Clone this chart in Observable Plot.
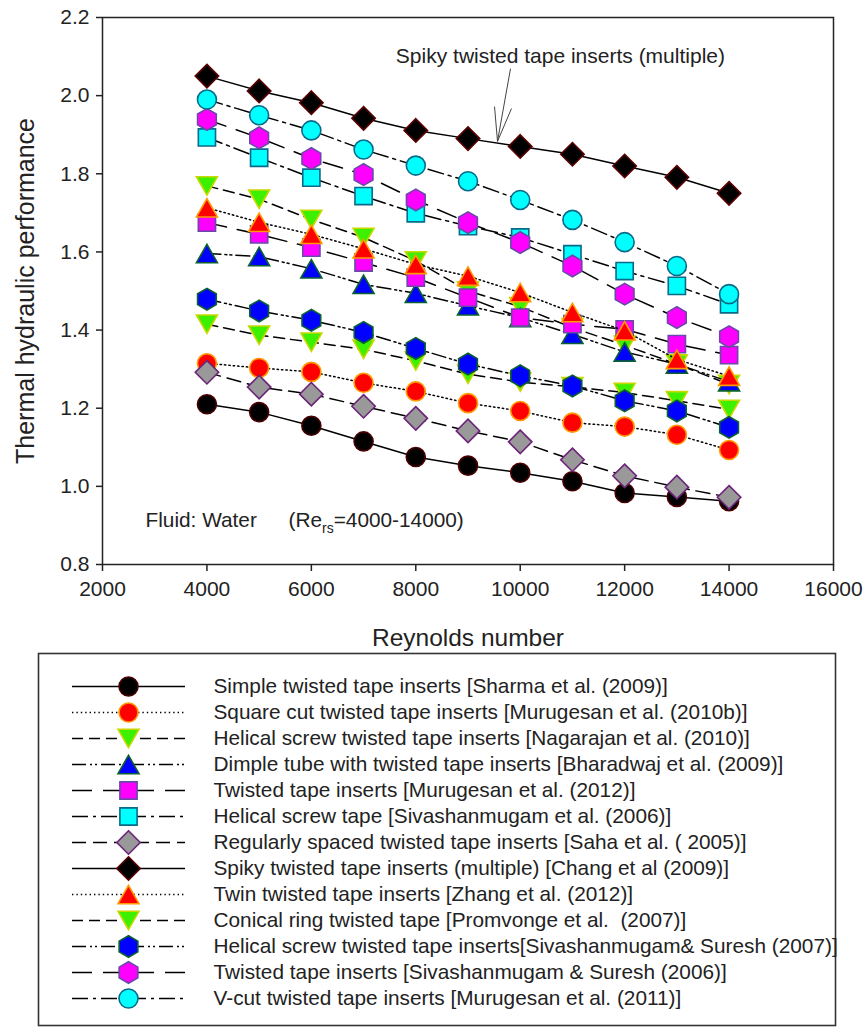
<!DOCTYPE html>
<html>
<head>
<meta charset="utf-8">
<script src="https://cdn.jsdelivr.net/npm/d3@7"></script>
<script src="https://cdn.jsdelivr.net/npm/@observablehq/plot@0.6"></script>
<style>
  body { margin: 0; background: #fff; font-family: "Liberation Sans", Arial, sans-serif; }
  #chart svg, #legend svg { display: block; }
</style>
</head>
<body>
<div id="chart"></div>
<div id="legend"></div>
<script>
// ---------- data ----------
const reynolds = [4000, 5000, 6000, 7000, 8000, 9000, 10000, 11000, 12000, 13000, 14000];

const seriesNames = [
  "Simple twisted tape inserts [Sharma et al. (2009)]",
  "Square cut twisted tape inserts [Murugesan et al. (2010b)]",
  "Helical screw twisted tape inserts [Nagarajan et al. (2010)]",
  "Dimple tube with twisted tape inserts [Bharadwaj et al. (2009)]",
  "Twisted tape inserts [Murugesan et al. (2012)]",
  "Helical screw tape [Sivashanmugam et al. (2006)]",
  "Regularly spaced twisted tape inserts [Saha et al. ( 2005)]",
  "Spiky twisted tape inserts (multiple) [Chang et al (2009)]",
  "Twin twisted tape inserts [Zhang et al. (2012)]",
  "Conical ring twisted tape [Promvonge et al.  (2007)]",
  "Helical screw twisted tape inserts[Sivashanmugam& Suresh (2007)]",
  "Twisted tape inserts [Sivashanmugam & Suresh (2006)]",
  "V-cut twisted tape inserts [Murugesan et al. (2011)]"
];

const sharma2009      = [1.210, 1.190, 1.155, 1.115, 1.075, 1.053, 1.035, 1.013, 0.983, 0.973, 0.962];
const murugesan2010b  = [1.315, 1.303, 1.293, 1.265, 1.243, 1.213, 1.193, 1.163, 1.153, 1.132, 1.093];
const nagarajan2010   = [1.769, 1.735, 1.683, 1.637, 1.577, 1.500, 1.460, 1.406, 1.361, 1.313, 1.261];
const bharadwaj2009   = [1.596, 1.588, 1.557, 1.517, 1.494, 1.462, 1.432, 1.389, 1.344, 1.313, 1.268];
const murugesan2012   = [1.675, 1.645, 1.611, 1.573, 1.534, 1.483, 1.432, 1.415, 1.402, 1.364, 1.336];
const sivashanmugam2006 = [1.893, 1.841, 1.790, 1.743, 1.699, 1.666, 1.637, 1.594, 1.551, 1.513, 1.466];
const saha2005        = [1.292, 1.254, 1.236, 1.205, 1.174, 1.142, 1.114, 1.068, 1.027, 0.998, 0.972];
const chang2009       = [2.050, 2.012, 1.982, 1.942, 1.911, 1.890, 1.870, 1.850, 1.820, 1.791, 1.750];
const zhang2012       = [1.713, 1.676, 1.645, 1.608, 1.568, 1.538, 1.496, 1.445, 1.398, 1.325, 1.282];
const promvonge2007   = [1.415, 1.387, 1.369, 1.351, 1.321, 1.287, 1.267, 1.255, 1.240, 1.219, 1.197];
const sivSuresh2007   = [1.479, 1.449, 1.425, 1.394, 1.353, 1.313, 1.283, 1.257, 1.219, 1.193, 1.151];
const sivSuresh2006   = [1.939, 1.892, 1.839, 1.798, 1.733, 1.675, 1.624, 1.564, 1.492, 1.432, 1.383];
const murugesan2011   = [1.990, 1.950, 1.911, 1.862, 1.821, 1.781, 1.733, 1.682, 1.625, 1.564, 1.492];

const seriesValues = [sharma2009, murugesan2010b, nagarajan2010, bharadwaj2009, murugesan2012,
  sivashanmugam2006, saha2005, chang2009, zhang2012, promvonge2007, sivSuresh2007, sivSuresh2006, murugesan2011];

const xTicks = [2000, 4000, 6000, 8000, 10000, 12000, 14000, 16000];
const yTicks = [0.8, 1.0, 1.2, 1.4, 1.6, 1.8, 2.0, 2.2];

const xLabel = "Reynolds number";
const yLabel = "Thermal hydraulic performance";

// annotation (data coordinates)
const annotationText = [{x: 10770, y: 2.100, text: "Spiky twisted tape inserts (multiple)"}];
const arrowSegments = [
  {x1: 9814, y1: 2.069, x2: 9565, y2: 1.883},
  {x1: 9508, y1: 1.972, x2: 9565, y2: 1.883},
  {x1: 9833, y1: 1.967, x2: 9565, y2: 1.883}
];
const fluidNote = [{x: 2824, y: 0.913, text: "Fluid: Water"}];
const rangeNote = [{x: 5562, y: 0.913, text: "(Re=4000-14000)"}];

// ---------- styles ----------
function shape(fn) { return {draw(ctx, size) { fn(ctx, Math.sqrt(size / Math.PI)); }}; }
const symCircle = shape((c, R) => { const r = 0.95 * R; c.moveTo(r, 0); c.arc(0, 0, r, 0, 2 * Math.PI); c.closePath(); });
const symSquare = shape((c, R) => { const h = 0.86 * R; c.rect(-h, -h, 2 * h, 2 * h); });
const symDiamond = shape((c, R) => { const h = 1.17 * R; c.moveTo(0, -h); c.lineTo(h, 0); c.lineTo(0, h); c.lineTo(-h, 0); c.closePath(); });
const symTriUp = shape((c, R) => { const w = 1.05 * R, h = 0.92 * R; c.moveTo(0, -h); c.lineTo(w, h); c.lineTo(-w, h); c.closePath(); });
const symTriDown = shape((c, R) => { const w = 1.05 * R, h = 0.92 * R; c.moveTo(0, h); c.lineTo(w, -h); c.lineTo(-w, -h); c.closePath(); });
const symHex = shape((c, R) => { const r = 1.08 * R; for (let k = 0; k < 6; k++) { const a = Math.PI / 2 + k * Math.PI / 3; const px = r * Math.cos(a), py = -r * Math.sin(a); k ? c.lineTo(px, py) : c.moveTo(px, py); } c.closePath(); });

const DOT = "1.4,3";
const SHORTDASH = "11,6";
const DASHDOTDOT = "14,4,2,3,2,4";
const LONGDASH = "20,11";
const DASHDOT = "16,5,3,5";
const MEDDASH = "14,7";

const styles = [
  {symbol: symCircle,  fill: "#000000", stroke: "#4a0000", dash: null},
  {symbol: symCircle,  fill: "#ff0000", stroke: "#ff9a00", dash: DOT},
  {symbol: symTriDown, fill: "#3cf000", stroke: "#c8d800", dash: SHORTDASH},
  {symbol: symTriUp,   fill: "#0000ff", stroke: "#0a6030", dash: DASHDOTDOT},
  {symbol: symSquare,  fill: "#ff00ff", stroke: "#6a48a8", dash: LONGDASH},
  {symbol: symSquare,  fill: "#00ffff", stroke: "#0a6a88", dash: DASHDOT},
  {symbol: symDiamond, fill: "#999999", stroke: "#6c2478", dash: MEDDASH},
  {symbol: symDiamond, fill: "#000000", stroke: "#5a0000", dash: null},
  {symbol: symTriUp,   fill: "#ff0000", stroke: "#ff9a00", dash: DOT},
  {symbol: symTriDown, fill: "#3cf000", stroke: "#c8d800", dash: SHORTDASH},
  {symbol: symHex,     fill: "#0000ff", stroke: "#0a6030", dash: DASHDOTDOT},
  {symbol: symHex,     fill: "#ff00ff", stroke: "#6a48a8", dash: LONGDASH},
  {symbol: symCircle,  fill: "#00ffff", stroke: "#0a6a88", dash: DASHDOT}
];

const rows = seriesNames.flatMap((name, i) => reynolds.map((re, j) => ({series: name, re, tpf: seriesValues[i][j]})));

const FONT = "Liberation Sans, Arial, sans-serif";

// ---------- main chart ----------
const seriesMarks = seriesNames.flatMap((name, i) => {
  const d = rows.filter(r => r.series === name);
  const s = styles[i];
  return [
    Plot.line(d, {x: "re", y: "tpf", stroke: "#000", strokeWidth: 1.5, strokeDasharray: s.dash || undefined}),
    Plot.dot(d, {x: "re", y: "tpf", r: 10, symbol: s.symbol, fill: s.fill, stroke: s.stroke, strokeWidth: 1.6})
  ];
});

const chart = Plot.plot({
  width: 865,
  height: 652,
  marginLeft: 102,
  marginRight: 32,
  marginTop: 17,
  marginBottom: 88,
  style: {fontFamily: FONT, color: "#222", background: "#fff"},
  x: {domain: [2000, 16000]},
  y: {domain: [0.8, 2.2]},
  marks: [
    Plot.frame({stroke: "#222", strokeWidth: 1.5}),
    Plot.axisX({ticks: xTicks, tickFormat: d => String(d), tickSize: 7, tickPadding: 10, fontSize: 21, label: null, strokeWidth: 1.5}),
    Plot.axisY({ticks: yTicks, tickFormat: d3.format(".1f"), tickSize: 6, tickPadding: 7, fontSize: 21, label: null, strokeWidth: 1.5}),
    Plot.text([xLabel], {frameAnchor: "bottom", dy: 81, lineAnchor: "bottom", textAnchor: "middle", text: d => d, fontSize: 24.5, fill: "#222"}),
    Plot.text([yLabel], {frameAnchor: "left", dx: -77, rotate: -90, lineAnchor: "middle", textAnchor: "middle", text: d => d, fontSize: 25, fill: "#222"}),
    ...seriesMarks,
    Plot.link(arrowSegments, {x1: "x1", y1: "y1", x2: "x2", y2: "y2", stroke: "#444", strokeWidth: 1}),
    Plot.text(annotationText, {x: "x", y: "y", text: "text", fontSize: 21, fill: "#222"}),
    Plot.text(fluidNote, {x: "x", y: "y", text: "text", textAnchor: "start", fontSize: 20.8, fill: "#222"}),
    Plot.text(rangeNote, {x: "x", y: "y", text: "text", textAnchor: "start", fontSize: 20.8, fill: "#222"})
  ]
});

// subscript "rs" in Re
d3.select(chart).selectAll("text").filter(function() { return this.textContent === "(Re=4000-14000)"; })
  .each(function() {
    const t = d3.select(this);
    t.text(null);
    t.append("tspan").text("(Re");
    t.append("tspan").attr("dy", 6).attr("font-size", 14).text("rs");
    t.append("tspan").attr("dy", -6).text("=4000-14000)");
  });

document.getElementById("chart").appendChild(chart);

// ---------- legend ----------
const legendMarks = seriesNames.flatMap((name, i) => {
  const s = styles[i];
  return [
    Plot.ruleY([name], {y: d => d, x1: 72, x2: 185, stroke: "#000", strokeWidth: 1.5, strokeDasharray: s.dash || undefined}),
    Plot.dot([name], {y: d => d, x: 128, r: 10, symbol: s.symbol, fill: s.fill, stroke: s.stroke, strokeWidth: 1.6})
  ];
});

const legend = Plot.plot({
  width: 865,
  height: 378,
  margin: 0,
  style: {fontFamily: FONT, color: "#222", background: "#fff"},
  x: {type: "linear", domain: [0, 865], range: [0, 865], axis: null},
  y: {type: "point", domain: seriesNames, range: [30.7, 349.7], padding: 0, axis: null},
  marks: [
    Plot.frame({insetLeft: 38, insetRight: 30, insetTop: 1, insetBottom: 5, stroke: "#333", strokeWidth: 1.6}),
    ...legendMarks,
    Plot.text(seriesNames, {x: 213, y: d => d, text: d => d, textAnchor: "start", fontSize: 20.8, fill: "#222"})
  ]
});
document.getElementById("legend").appendChild(legend);
</script>
</body>
</html>
